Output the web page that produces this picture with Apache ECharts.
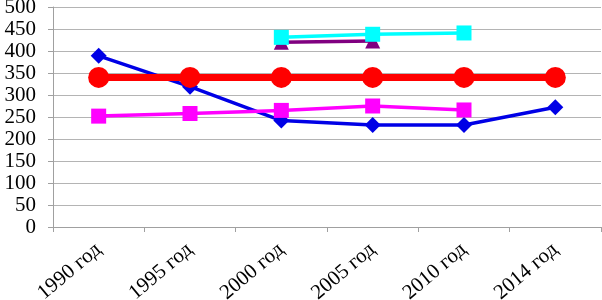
<!DOCTYPE html>
<html>
<head>
<meta charset="utf-8">
<script src="https://cdn.jsdelivr.net/npm/echarts@6/dist/echarts.min.js"></script>
<style>
html,body{margin:0;padding:0;background:#fff;}
#c{width:602px;height:300px;}
</style>
</head>
<body>
<div id="c"></div>
<script>
var categories = ['1990 год', '1995 год', '2000 год', '2005 год', '2010 год', '2014 год'];
var blueValues = [389, 319, 242, 232, 232, 272];
var magentaValues = [252, 258, 265, 275, 266, null];
var purpleValues = [null, null, 420, 423, null, null];
var cyanValues = [null, null, 431, 438, 441, null];
var redValues = [340, 340, 340, 340, 340, 340];
var yTicks = [0, 50, 100, 150, 200, 250, 300, 350, 400, 450, 500];

var chart = echarts.init(document.getElementById('c'), null, {renderer: 'canvas'});
var font = '"Liberation Serif", "Times New Roman", serif';
function line(name, data, color, width, symbol, size) {
  return {
    name: name, type: 'line', data: data, symbol: symbol, symbolSize: size,
    connectNulls: false, animation: false,
    lineStyle: {color: color, width: width},
    itemStyle: {color: color, borderWidth: 0}
  };
}
chart.setOption({
  backgroundColor: '#fff',
  animation: false,
  grid: {left: 53, right: 1, top: 7, bottom: 73, containLabel: false, outerBoundsMode: 'none'},
  xAxis: {
    type: 'category', data: categories, boundaryGap: true,
    axisLine: {lineStyle: {color: '#a0a0a0', width: 1}},
    axisTick: {show: true, inside: false, length: 5, lineStyle: {color: '#a0a0a0'}},
    axisLabel: {rotate: 40, color: '#000', fontFamily: font, fontSize: 21, margin: 20, interval: 0}
  },
  yAxis: {
    type: 'value', min: yTicks[0], max: yTicks[yTicks.length - 1], interval: 50,
    axisLine: {show: true, lineStyle: {color: '#a0a0a0', width: 1}},
    axisTick: {show: true, length: 5, lineStyle: {color: '#a0a0a0'}},
    splitLine: {show: true, lineStyle: {color: '#b4b4b4', width: 1}},
    axisLabel: {color: '#000', fontFamily: font, fontSize: 21, margin: 17}
  },
  series: [
    line('Ряд 1', blueValues, '#0000e6', 3.5, 'diamond', 16),
    line('Ряд 2', magentaValues, '#ff00ff', 3.5, 'rect', 15),
    line('Ряд 3', purpleValues, '#800080', 3.5, 'triangle', 15),
    line('Ряд 4', cyanValues, '#00ffff', 3.5, 'rect', 15),
    line('Ряд 5', redValues, '#ff0000', 7, 'circle', 21)
  ]
});
</script>
</body>
</html>
